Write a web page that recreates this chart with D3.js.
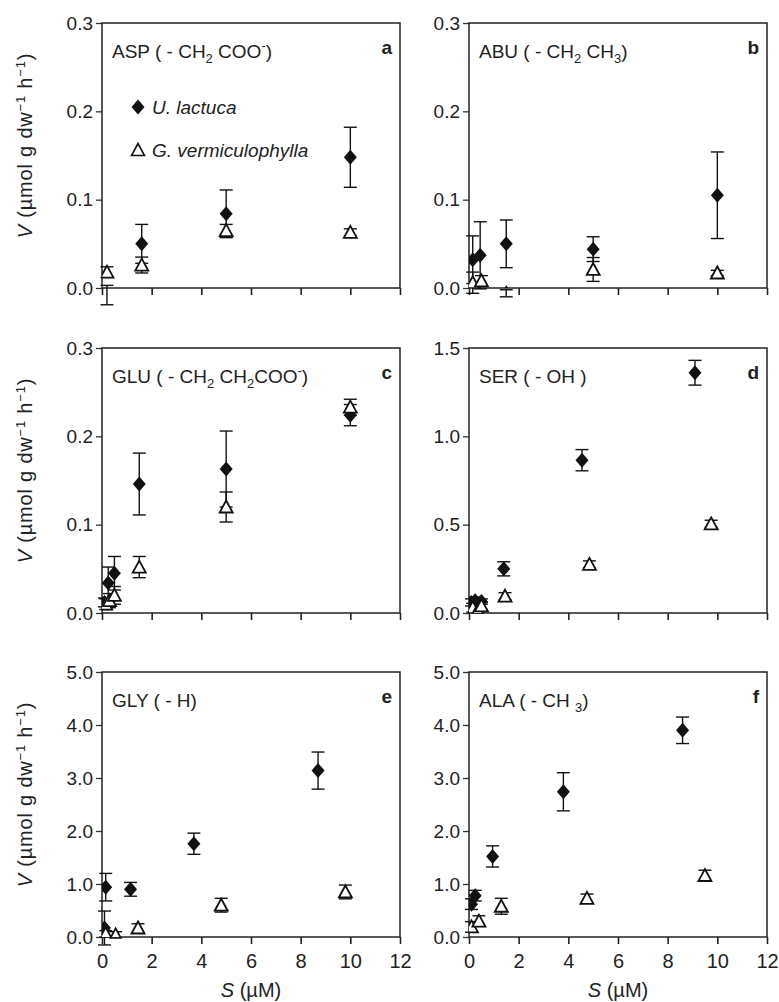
<!DOCTYPE html>
<html>
<head>
<meta charset="utf-8">
<script src="https://cdn.jsdelivr.net/npm/d3@7"></script>
<style>
  body { margin: 0; background: #fff; }
  text { font-family: "Liberation Sans", Arial, sans-serif; fill: #222; }
</style>
</head>
<body>
<svg id="chart" width="779" height="1002"></svg>
<script>
// substrate concentration ticks (µM)
const sTicks = [0, 2, 4, 6, 8, 10, 12];

// [S, V, error] for U. lactuca (U) and G. vermiculophylla (G)
const aspU = [[0.2, -0.008, 0.011], [1.6, 0.050, 0.022], [5.0, 0.084, 0.027], [10.0, 0.148, 0.034]];
const aspG = [[0.2, 0.018, 0.006], [1.6, 0.026, 0.009], [5.0, 0.065, 0.007], [10.0, 0.063, 0.004]];

const abuU = [[0.15, 0.032, 0.027], [0.45, 0.037, 0.038], [1.5, 0.050, 0.027], [5.0, 0.044, 0.014], [10.0, 0.105, 0.049]];
const abuG = [[0.15, 0.006, 0.012], [0.5, 0.008, 0.006], [1.5, -0.006, 0.004], [5.0, 0.021, 0.0135], [10.0, 0.017, 0.003]];

const gluU = [[0.1, 0.012, 0.005], [0.25, 0.034, 0.018], [0.5, 0.045, 0.019], [1.5, 0.146, 0.035], [5.0, 0.163, 0.043], [10.0, 0.224, 0.012]];
const gluG = [[0.15, 0.010, 0.006], [0.3, 0.014, 0.008], [0.5, 0.020, 0.010], [1.5, 0.052, 0.012], [5.0, 0.120, 0.017], [10.0, 0.233, 0.009]];

const serU = [[0.1, 0.06, 0.02], [0.25, 0.07, 0.02], [0.5, 0.065, 0.015], [1.4, 0.25, 0.04], [4.55, 0.865, 0.06], [9.1, 1.36, 0.07]];
const serG = [[0.15, 0.03, 0.025], [0.35, 0.015, 0.015], [0.5, 0.04, 0.02], [1.45, 0.095, 0.02], [4.85, 0.275, 0.02], [9.75, 0.505, 0.02]];

const glyU = [[0.1, 0.17, 0.32], [0.15, 0.94, 0.26], [1.15, 0.90, 0.13], [3.7, 1.76, 0.2], [8.7, 3.14, 0.35]];
const glyG = [[0.15, 0.06, 0.06], [0.55, 0.04, 0.06], [1.45, 0.17, 0.08], [4.8, 0.60, 0.13], [9.8, 0.85, 0.13]];

const alaU = [[0.1, 0.62, 0.1], [0.25, 0.78, 0.1], [0.95, 1.52, 0.2], [3.8, 2.74, 0.36], [8.6, 3.9, 0.25]];
const alaG = [[0.1, 0.19, 0.1], [0.4, 0.30, 0.1], [1.3, 0.58, 0.15], [4.75, 0.73, 0.08], [9.5, 1.16, 0.1]];

const smallTicks = [0, 0.1, 0.2, 0.3];
const serTicks = [0, 0.5, 1.0, 1.5];
const bigTicks = [0, 1, 2, 3, 4, 5];

// title pieces: [text, "" | "sub" | "sup"]
const panels = [
  { letter: "a", col: 0, row: 0, yTicks: smallTicks, u: aspU, g: aspG,
    title: [["ASP ( - CH", ""], ["2", "sub"], [" COO", ""], ["-", "sup"], [")", ""]] },
  { letter: "b", col: 1, row: 0, yTicks: smallTicks, u: abuU, g: abuG,
    title: [["ABU ( - CH", ""], ["2", "sub"], [" CH", ""], ["3", "sub"], [")", ""]] },
  { letter: "c", col: 0, row: 1, yTicks: smallTicks, u: gluU, g: gluG,
    title: [["GLU ( - CH", ""], ["2", "sub"], [" CH", ""], ["2", "sub"], ["COO", ""], ["-", "sup"], [")", ""]] },
  { letter: "d", col: 1, row: 1, yTicks: serTicks, u: serU, g: serG,
    title: [["SER ( - OH )", ""]] },
  { letter: "e", col: 0, row: 2, yTicks: bigTicks, u: glyU, g: glyG,
    title: [["GLY ( - H)", ""]] },
  { letter: "f", col: 1, row: 2, yTicks: bigTicks, u: alaU, g: alaG,
    title: [["ALA ( - CH ", ""], ["3", "sub"], [")", ""]] }
];

const colX = [102, 469];
const rowY = [23, 348, 672];
const pw = 298, ph = 265;

const diamond = "M0,-7.5L6.5,0L0,7.5L-6.5,0Z";
const triangle = "M0,-6.5L6.5,5.5L-6.5,5.5Z";

const svg = d3.select("#chart");
const defs = svg.append("defs");

panels.forEach((p, i) => {
  const x0 = colX[p.col], y0 = rowY[p.row];
  const g = svg.append("g").attr("transform", `translate(${x0},${y0})`);

  const x = d3.scaleLinear().domain([0, 12]).range([0, pw]);
  const y = d3.scaleLinear().domain([0, d3.max(p.yTicks)]).range([ph, 0]);
  const fmt = d3.format(".1f");

  defs.append("clipPath").attr("id", "clip" + i)
    .append("rect").attr("width", pw).attr("height", ph);

  // y axis
  const yAxis = g.append("g")
    .call(d3.axisLeft(y).tickValues(p.yTicks).tickFormat(fmt).tickSize(6).tickPadding(3));
  yAxis.select(".domain").remove();
  yAxis.selectAll(".tick line").attr("stroke", "#333").attr("stroke-width", 1.3);
  yAxis.selectAll(".tick text").style("font-size", "19px")
    .style("font-family", "Liberation Sans, Arial, sans-serif").attr("fill", "#222");

  // x axis
  const xAxis = g.append("g").attr("transform", `translate(0,${ph})`)
    .call(d3.axisBottom(x).tickValues(sTicks).tickSize(7).tickPadding(10));
  xAxis.select(".domain").remove();
  xAxis.selectAll(".tick line").attr("stroke", "#222").attr("stroke-width", 1.6);
  if (p.row === 2) {
    xAxis.selectAll(".tick text").style("font-size", "20px")
      .style("font-family", "Liberation Sans, Arial, sans-serif").attr("fill", "#222");
  } else {
    xAxis.selectAll(".tick text").remove();
  }

  // frame
  g.append("rect").attr("width", pw).attr("height", ph)
    .attr("fill", "none").attr("stroke", "#222").attr("stroke-width", 1.5);

  // error bars
  const drawErr = (data) => {
    const eb = g.append("g").attr("stroke", "#111").attr("stroke-width", 1.4);
    data.forEach(d => {
      const cx = x(d[0]);
      eb.append("line").attr("x1", cx).attr("x2", cx).attr("y1", y(d[1] - d[2])).attr("y2", y(d[1] + d[2]));
      [d[1] - d[2], d[1] + d[2]].forEach(v => {
        eb.append("line").attr("x1", cx - 6.5).attr("x2", cx + 6.5).attr("y1", y(v)).attr("y2", y(v));
      });
    });
  };
  drawErr(p.u);
  drawErr(p.g);

  const marks = g.append("g").attr("clip-path", `url(#clip${i})`);
  marks.selectAll(".u").data(p.u).join("path")
    .attr("d", diamond)
    .attr("transform", d => `translate(${x(d[0])},${y(d[1])})`)
    .attr("fill", "#111");
  marks.selectAll(".g").data(p.g).join("path")
    .attr("d", triangle)
    .attr("transform", d => `translate(${x(d[0])},${y(d[1])})`)
    .attr("fill", "#fff").attr("stroke", "#111").attr("stroke-width", 1.8);

  // compound title
  const t = g.append("text").attr("x", 10).attr("y", 35).style("font-size", "19px");
  let shift = 0;
  p.title.forEach(([s, mode]) => {
    const target = mode === "sub" ? 5 : mode === "sup" ? -8 : 0;
    t.append("tspan").attr("dy", target - shift)
      .style("font-size", mode ? "13px" : "19px").text(s);
    shift = target;
  });

  // panel letter
  g.append("text").attr("x", pw - 8).attr("y", 31).attr("text-anchor", "end")
    .style("font-size", "19px").style("font-weight", "bold").text(p.letter);

  // y title on left column
  if (p.col === 0) {
    const yt = svg.append("text")
      .attr("transform", `translate(${x0 - 70},${y0 + ph / 2 - 10}) rotate(-90)`)
      .attr("text-anchor", "middle").style("font-size", "20px")
      .style("letter-spacing", "0.8px").attr("fill", "#333");
    yt.append("tspan").style("font-style", "italic").text("V");
    yt.append("tspan").text(" (µmol g dw");
    yt.append("tspan").attr("dy", -7).style("font-size", "13px").text("−1");
    yt.append("tspan").attr("dy", 7).text(" h");
    yt.append("tspan").attr("dy", -7).style("font-size", "13px").text("−1");
    yt.append("tspan").attr("dy", 7).text(")");
  }

  // x title under bottom row
  if (p.row === 2) {
    const xt = svg.append("text")
      .attr("x", x0 + pw / 2).attr("y", y0 + ph + 60)
      .attr("text-anchor", "middle").style("font-size", "20px");
    xt.append("tspan").style("font-style", "italic").text("S");
    xt.append("tspan").text(" (µM)");
  }

  // legend in panel a
  if (p.letter === "a") {
    const lg = g.append("g");
    const items = [["U. lactuca", diamond, "#111"], ["G. vermiculophylla", triangle, "#fff"]];
    items.forEach((it, k) => {
      const ly = 84 + k * 43;
      lg.append("path").attr("d", it[1]).attr("transform", `translate(36,${ly})`)
        .attr("fill", it[2]).attr("stroke", "#111").attr("stroke-width", k ? 1.6 : 0);
      lg.append("text").attr("x", 50).attr("y", ly + 7)
        .style("font-size", "19px").style("font-style", "italic").text(it[0]);
    });
  }
});
</script>
</body>
</html>
